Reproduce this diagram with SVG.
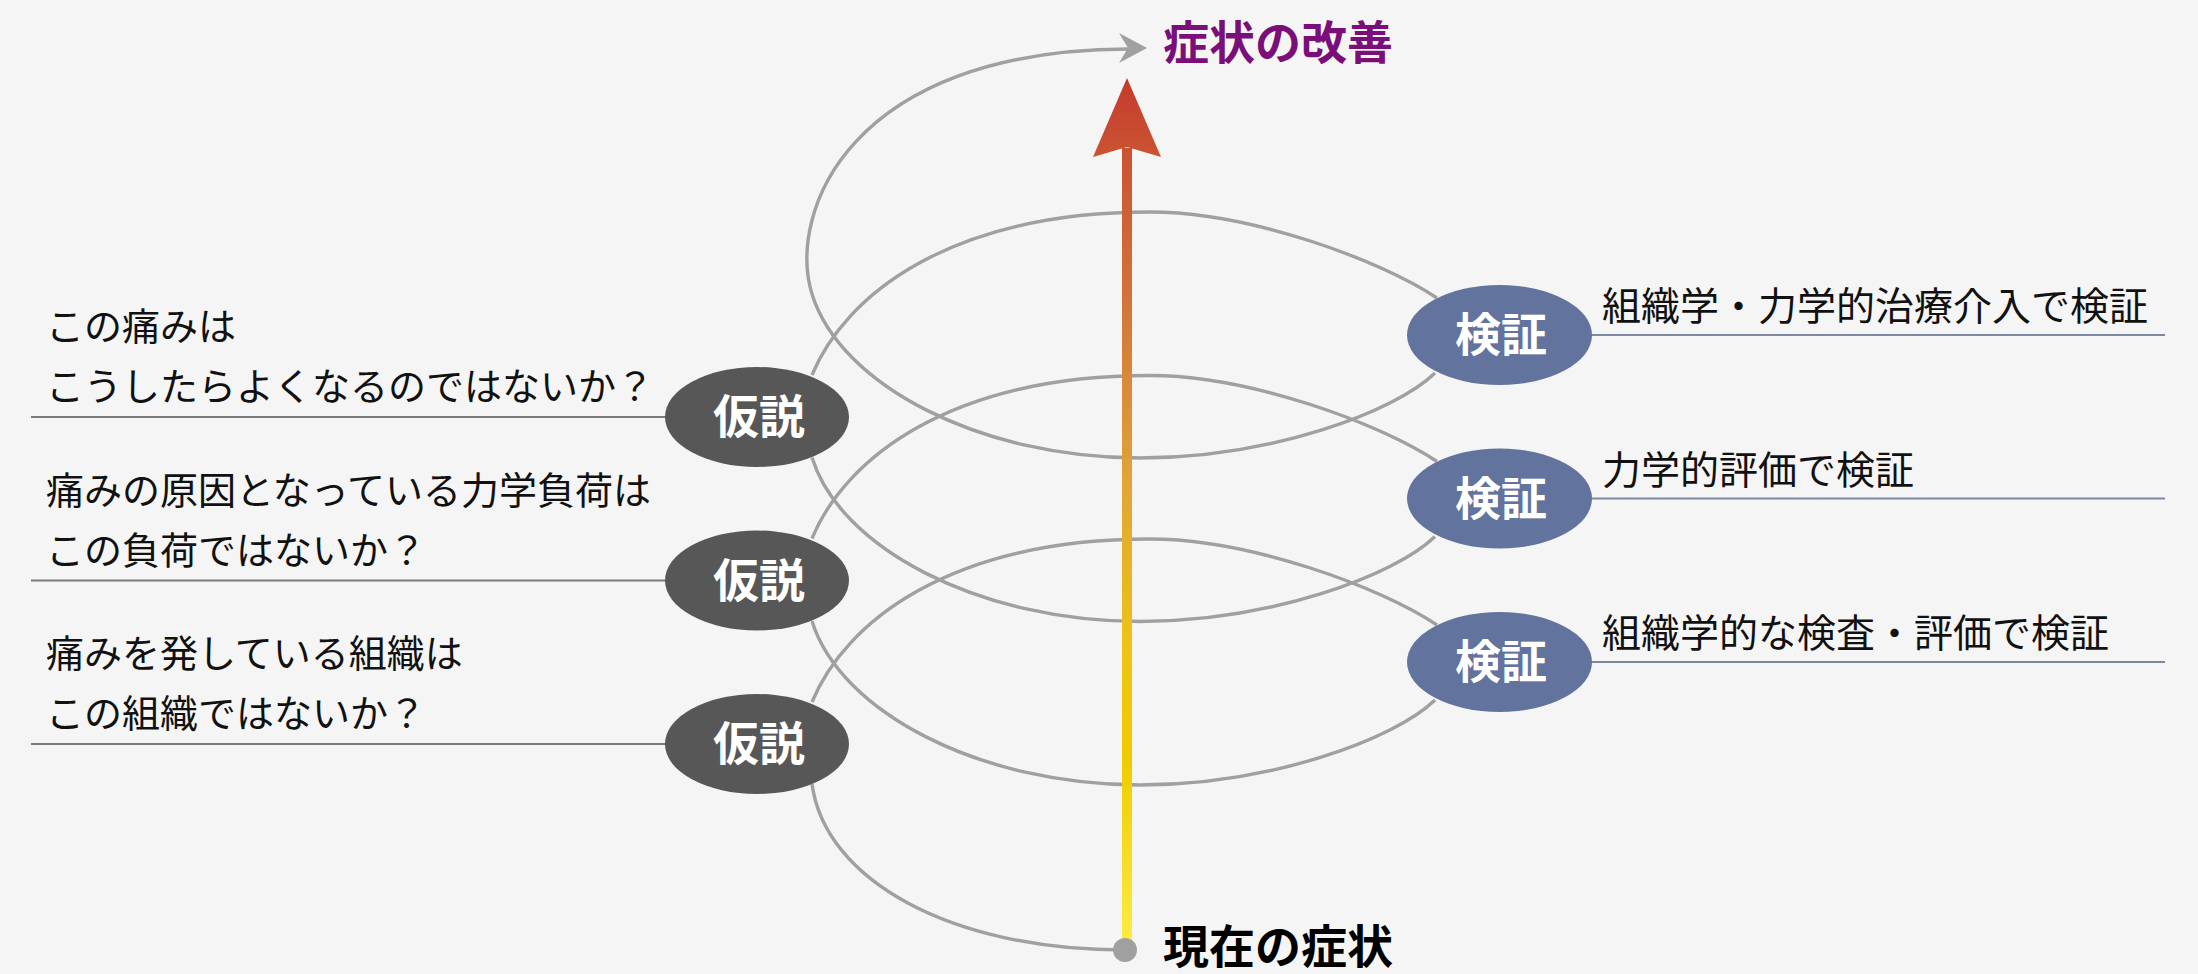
<svg xmlns="http://www.w3.org/2000/svg" width="2198" height="974" viewBox="0 0 2198 974">
<defs>
<linearGradient id="shaft" gradientUnits="userSpaceOnUse" x1="0" y1="78" x2="0" y2="945">
<stop offset="0" stop-color="#C43A2E"/>
<stop offset="0.095" stop-color="#CB5532"/>
<stop offset="0.256" stop-color="#D2743A"/>
<stop offset="0.464" stop-color="#E0A438"/>
<stop offset="0.66" stop-color="#EDC414"/>
<stop offset="0.787" stop-color="#F0CB00"/>
<stop offset="1" stop-color="#FDEC45"/>
</linearGradient>
<style>
.curve{fill:none;stroke:#A0A0A0;stroke-width:3.4}
.lrule{stroke:#7A7A7A;stroke-width:2}
.rrule{stroke:#7C889F;stroke-width:2}
.hyp{fill:#575757}
.ver{fill:#62739D}
.nodetxt{font-family:"Noto Sans CJK JP","Noto Sans CJK SC",sans-serif;font-weight:bold;font-size:46px;fill:#FFFFFF;text-anchor:middle}
.lbl{font-family:"Noto Sans CJK JP","Noto Sans CJK SC",sans-serif;font-size:38px;fill:#111111}
.rlbl{font-family:"Noto Sans CJK JP","Noto Sans CJK SC",sans-serif;font-size:39px;fill:#111111}
.big{font-family:"Noto Sans CJK JP","Noto Sans CJK SC",sans-serif;font-weight:bold;font-size:46px}
</style>
</defs>
<rect x="0" y="0" width="2198" height="974" fill="#F5F5F5"/>

<g id="connectors">
<path class="curve" d="M812,784 C825,880 950,950 1125,950"/>
<path class="curve" d="M812,702 C845,622 950,539 1150,539 C1250,539 1380,587 1437,625"/>
<path class="curve" d="M1435,700 C1395,739 1270,785 1140,785 C980,785 840,712 812,621"/>
<path class="curve" d="M812,538.5 C845,458.5 950,375.5 1150,375.5 C1250,375.5 1380,423.5 1437,461.5"/>
<path class="curve" d="M1435,536.5 C1395,575.5 1270,621.5 1140,621.5 C980,621.5 840,548.5 812,457.5"/>
<path class="curve" d="M812,375 C845,295 950,212 1150,212 C1250,212 1380,260 1437,298"/>
<path class="curve" d="M1435,373 C1395,412 1270,458 1140,458 C980,458 840,385 812,294 C787,212 850,50 1128,49"/>
<polygon points="1147,48 1119,33 1128,48 1119,63" fill="#A0A0A0"/>
<line class="lrule" x1="31" y1="417" x2="680" y2="417"/>
<line class="lrule" x1="31" y1="580.5" x2="680" y2="580.5"/>
<line class="lrule" x1="31" y1="744" x2="680" y2="744"/>
<line class="rrule" x1="1580" y1="335" x2="2165" y2="335"/>
<line class="rrule" x1="1580" y1="498.5" x2="2165" y2="498.5"/>
<line class="rrule" x1="1580" y1="662" x2="2165" y2="662"/>
</g>

<g id="progress-arrow">
<rect x="1122" y="148" width="10" height="798" fill="url(#shaft)"/>
<polygon points="1127,78 1161,157 1127,147 1093,157" fill="url(#shaft)"/>
<circle cx="1125" cy="950" r="12" fill="#A0A0A0"/>
</g>

<g id="goal">
<text class="big" x="1163" y="59" fill="#7A0F7A">症状の改善</text>
</g>
<g id="current">
<text class="big" x="1163" y="963" fill="#000000">現在の症状</text>
</g>

<g id="hypothesis-1">
<ellipse class="hyp" cx="757" cy="417" rx="92" ry="50"/>
<text class="nodetxt" x="759" y="433">仮説</text>
</g>
<g id="hypothesis-2">
<ellipse class="hyp" cx="757" cy="580.5" rx="92" ry="50"/>
<text class="nodetxt" x="759" y="596.5">仮説</text>
</g>
<g id="hypothesis-3">
<ellipse class="hyp" cx="757" cy="744" rx="92" ry="50"/>
<text class="nodetxt" x="759" y="760">仮説</text>
</g>

<g id="verify-1">
<ellipse class="ver" cx="1499.5" cy="335" rx="92.5" ry="50"/>
<text class="nodetxt" x="1501" y="351">検証</text>
</g>
<g id="verify-2">
<ellipse class="ver" cx="1499.5" cy="498.5" rx="92.5" ry="50"/>
<text class="nodetxt" x="1501" y="514.5">検証</text>
</g>
<g id="verify-3">
<ellipse class="ver" cx="1499.5" cy="662" rx="92.5" ry="50"/>
<text class="nodetxt" x="1501" y="678">検証</text>
</g>

<g id="hypothesis-1-label">
<text class="lbl" x="46" y="340">この痛みは</text>
<text class="lbl" x="46" y="400">こうしたらよくなるのではないか？</text>
</g>
<g id="hypothesis-2-label">
<text class="lbl" x="46" y="503.5">痛みの原因となっている力学負荷は</text>
<text class="lbl" x="46" y="563.5">この負荷ではないか？</text>
</g>
<g id="hypothesis-3-label">
<text class="lbl" x="46" y="667">痛みを発している組織は</text>
<text class="lbl" x="46" y="727">この組織ではないか？</text>
</g>

<g id="verify-1-label">
<text class="rlbl" x="1602" y="320">組織学・力学的治療介入で検証</text>
</g>
<g id="verify-2-label">
<text class="rlbl" x="1602" y="483.5">力学的評価で検証</text>
</g>
<g id="verify-3-label">
<text class="rlbl" x="1602" y="647">組織学的な検査・評価で検証</text>
</g>
</svg>
